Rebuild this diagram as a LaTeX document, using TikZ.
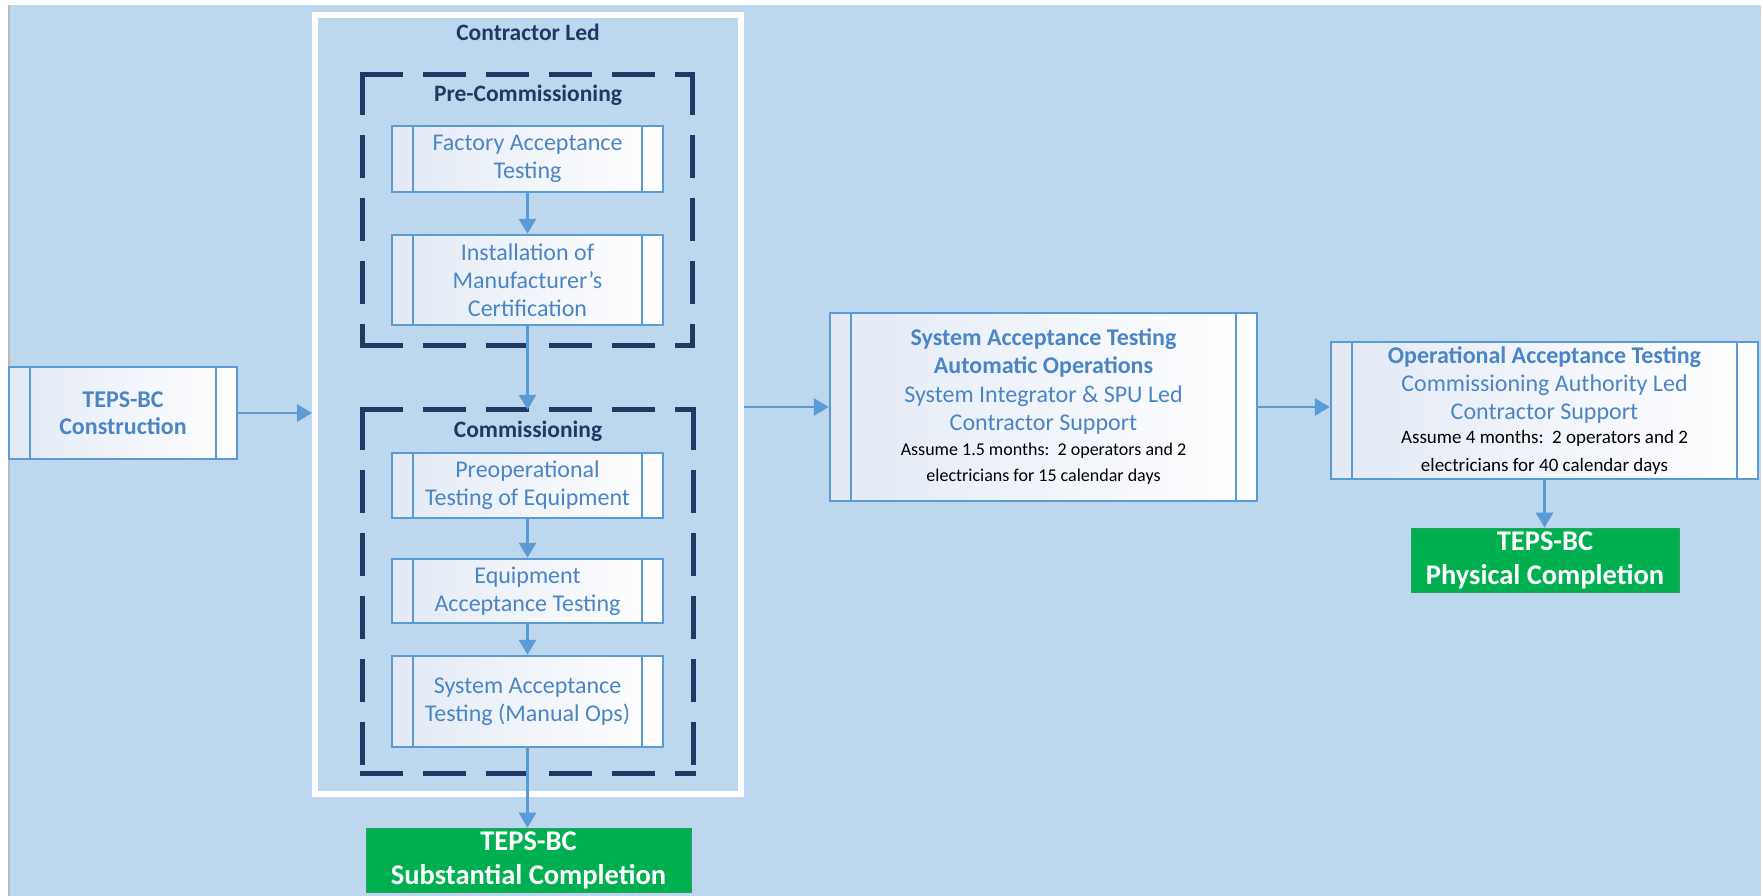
\documentclass[tikz,border=0pt]{standalone}
\usepackage{fontspec}
\setmainfont{Carlito}
\usetikzlibrary{arrows.meta,calc}
\definecolor{bgblue}{HTML}{BDD7EE}
\definecolor{edgeblue}{HTML}{5B9BD5}
\definecolor{txtblue}{HTML}{4A86C5}
\definecolor{navy}{HTML}{1F3864}
\definecolor{okgreen}{HTML}{00B050}
\definecolor{shadeblue}{HTML}{E2E9F5}
\tikzset{
  procbox/.style={draw=edgeblue, line width=2.5pt, left color=shadeblue, right color=white,
    text=txtblue, align=center, inner sep=0pt, minimum width=271pt,
    font=\fontsize{24}{28}\selectfont,
    path picture={\draw[edgeblue,line width=2.5pt]
      ([xshift=21pt]path picture bounding box.north west) -- ([xshift=21pt]path picture bounding box.south west)
      ([xshift=-21pt]path picture bounding box.north east) -- ([xshift=-21pt]path picture bounding box.south east);}},
  donebox/.style={fill=okgreen, draw=okgreen!70!gray, line width=0.6pt, text=white, align=center, inner sep=0pt,
    font=\bfseries\fontsize{28.5}{34}\selectfont, minimum height=64pt},
  title/.style={text=navy, font=\bfseries\fontsize{23.5}{27}\selectfont, anchor=base, inner sep=0pt},
  groupbox/.style={draw=none, inner sep=0pt},
  dashside/.style={navy, line width=5pt, line cap=rect, dash pattern=on 38pt off 25pt},
  flow/.style={edgeblue, line width=2.8pt, -{Triangle[length=15pt,width=17pt]}}
}
\begin{document}
\begin{tikzpicture}[x=1pt,y=-1pt]
\useasboundingbox (0,0) rectangle (1763,896);
\fill[white] (0,0) rectangle (1763,896);
\fill[gray!55] (8,5) rectangle (10,896);
\fill[bgblue] (10,5) rectangle (1761,896);

% contractor led frame
\node[draw=white, line width=6pt, minimum width=426pt, minimum height=779pt, inner sep=0pt] (frame) at (528,404.5) {};
\node[title] (ctitle) at (528,41) {Contractor Led};

% dashed groups
\node[groupbox, minimum width=329pt, minimum height=270pt] (pre) at (527.5,210) {};
\node[groupbox, minimum width=330pt, minimum height=363pt] (com) at (528,591.5) {};
\foreach \g in {pre,com}{
  \draw[dashside] (\g.north west) -- (\g.north east);
  \draw[dashside] (\g.north east) -- (\g.south east);
  \draw[dashside] (\g.south west) -- (\g.south east);
  \draw[dashside] (\g.north west) -- (\g.south west);
}
\node[title] (pretitle) at (528,102) {Pre-Commissioning};
\node[title] (comtitle) at (528,437) {Commissioning};

% process boxes
\node[procbox, minimum width=228pt, minimum height=92pt, font=\bfseries\fontsize{24}{27}\selectfont] (cons) at (123,413) {TEPS-BC\\Construction};
\node[procbox, minimum height=66pt] (fat) at (527.5,159) {Factory Acceptance\\Testing};
\node[procbox, minimum height=90pt] (inst) at (527.5,280) {Installation of\\Manufacturer’s\\Certification};
\node[procbox, minimum height=65pt] (preop) at (527.5,485.5) {Preoperational\\Testing of Equipment};
\node[procbox, minimum height=64pt] (equip) at (527.5,591) {Equipment\\Acceptance Testing};
\node[procbox, minimum height=91pt] (sysman) at (527.5,701.5) {System Acceptance\\Testing (Manual Ops)};

\node[procbox, minimum width=427pt, minimum height=188pt] (sat) at (1043.5,407)
  {\bfseries System Acceptance Testing\\
   \bfseries Automatic Operations\\[1pt]
   System Integrator \& SPU Led\\
   Contractor Support\\[-3pt]
   \color{black}\fontsize{18}{26}\selectfont Assume 1.5 months:\ \ 2 operators and 2\\[-2pt]
   \color{black}\fontsize{18}{26}\selectfont electricians for 15 calendar days};

\node[procbox, minimum width=427pt, minimum height=137pt] (oat) at (1544.5,410.5)
  {\bfseries Operational Acceptance Testing\\
   Commissioning Authority Led\\
   Contractor Support\\[-4pt]
   \color{black}\fontsize{19}{26}\selectfont Assume 4 months:\ \ 2 operators and 2\\
   \color{black}\fontsize{19}{26}\selectfont electricians for 40 calendar days};

% completion boxes
\node[donebox, minimum width=325pt] (subst) at (528.5,860) {TEPS-BC\\Substantial Completion};
\node[donebox, minimum width=268pt] (phys) at (1545,560) {TEPS-BC\\Physical Completion};

% connectors
\draw[flow] (cons.east) -- (cons.east -| frame.west);
\draw[flow] (fat.south) -- (inst.north);
\draw[flow] (inst.south) -- (inst.south |- com.north);
\draw[flow] (preop.south) -- (equip.north);
\draw[flow] (equip.south) -- (sysman.north);
\draw[flow] (sysman.south) -- (sysman.south |- subst.north);
\draw[flow] (frame.east |- sat.west) -- (sat.west);
\draw[flow] (sat.east) -- (sat.east -| oat.west);
\draw[flow] (oat.south) -- (oat.south |- phys.north);
\end{tikzpicture}
\end{document}
